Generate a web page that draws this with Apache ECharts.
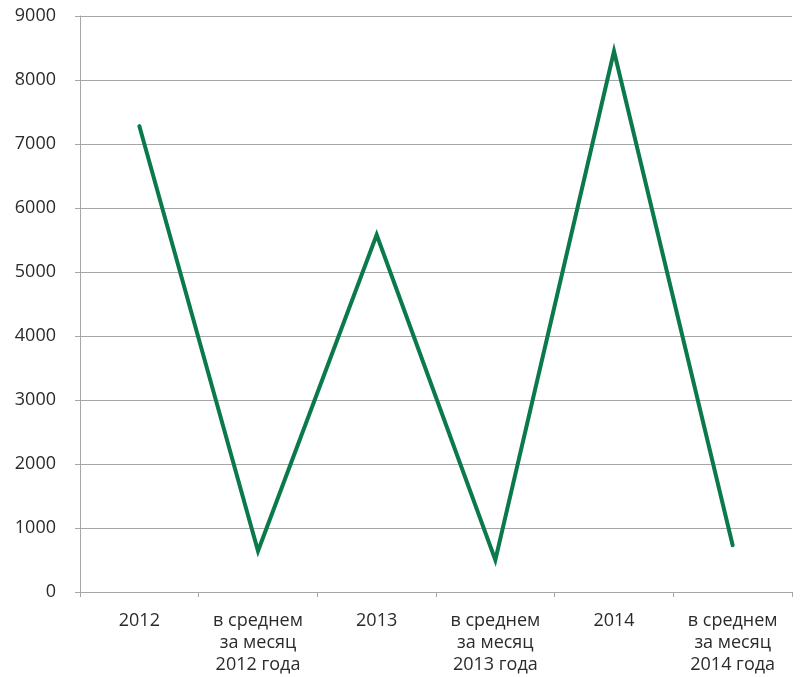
<!DOCTYPE html>
<html>
<head>
<meta charset="utf-8">
<script src="https://cdn.jsdelivr.net/npm/echarts@6/dist/echarts.min.js"></script>
<style>
html, body { margin: 0; padding: 0; background: #fff; }
#chart { width: 808px; height: 677px; }
</style>
</head>
<body>
<div id="chart"></div>
<script>
var categories = ['2012', 'в среднем\nза месяц\n2012 года', '2013', 'в среднем\nза месяц\n2013 года', '2014', 'в среднем\nза месяц\n2014 года'];
var values = [7280, 640, 5580, 500, 8450, 730];

var chart = echarts.init(document.getElementById('chart'));
chart.setOption({
	animation: false,
	grid: { left: 80, right: 16, top: 16, bottom: 85 },
	textStyle: { fontFamily: '"Open Sans", sans-serif' },
	xAxis: {
		type: 'category',
		data: categories,
		boundaryGap: true,
		axisLine: { lineStyle: { color: '#a6a6a6', width: 1 } },
		axisTick: { show: true, length: 5, lineStyle: { color: '#a6a6a6' } },
		axisLabel: { color: '#2b2b2b', fontSize: 18, lineHeight: 22, margin: 18, interval: 0 }
	},
	yAxis: {
		type: 'value',
		min: 0,
		max: 9000,
		interval: 1000,
		axisLine: { show: true, lineStyle: { color: '#a6a6a6', width: 1 } },
		axisTick: { show: true, length: 5, lineStyle: { color: '#a6a6a6' } },
		axisLabel: { color: '#2b2b2b', fontSize: 18, margin: 24, formatter: function (v) { return String(v); } },
		splitLine: { lineStyle: { color: '#a6a6a6', width: 1 } }
	},
	series: [{
		type: 'line',
		data: values,
		symbol: 'none',
		lineStyle: { color: '#0b7a4b', width: 4, cap: 'round', join: 'miter' }
	}]
});
</script>
</body>
</html>
